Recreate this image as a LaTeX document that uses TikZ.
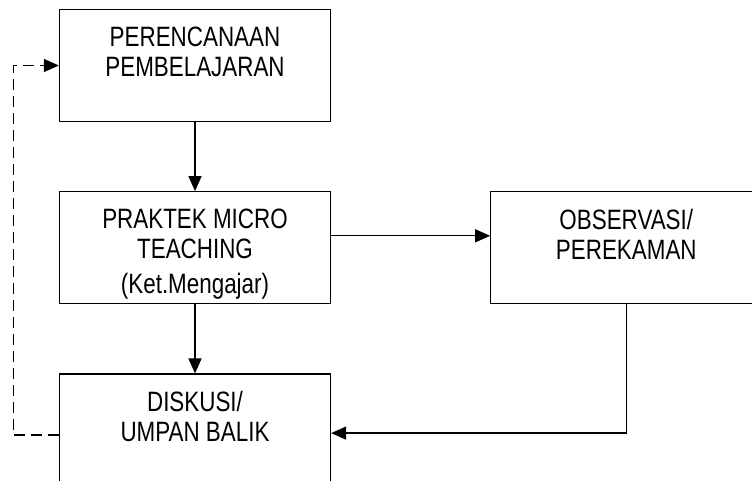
\documentclass[tikz,border=0pt]{standalone}
\usepackage{fontspec}
\setmainfont{Liberation Sans}[FakeStretch=0.8]
\usetikzlibrary{arrows.meta, positioning}

\begin{document}
\begin{tikzpicture}[
  x=1pt, y=1pt,
  node distance=69pt,
  box/.style={draw,line width=1.3pt,minimum width=271pt,minimum height=112pt,
              inner ysep=0pt,align=center,font=\fontsize{28}{30}\selectfont,
              text height=67.5pt,text depth=44.5pt},
  arrow/.style={-{Triangle[length=15pt,width=13pt]},line width=1.3pt},
  dasharrow/.style={arrow,dash pattern=on 11pt off 6pt}
]
  \useasboundingbox (0,0) rectangle (752,-481);
  \clip (0,0) rectangle (752,-481);
  \node[box] (plan) at (195,-65.5) {PERENCANAAN\\PEMBELAJARAN};
  \node[box, below=of plan, text height=101.5pt, text depth=10.5pt] (praktek) {PRAKTEK MICRO\\TEACHING\\[5pt](Ket.Mengajar)};
  \node[box, right=159pt of praktek] (observasi) {OBSERVASI/\\PEREKAMAN};
  \node[box, below=of praktek] (diskusi) {DISKUSI/\\UMPAN BALIK};

  \draw[arrow] (plan) -- (praktek);
  \draw[arrow] ([yshift=12pt]praktek.east) -- ([yshift=12pt]observasi.west);
  \draw[arrow] (praktek) -- (diskusi);
  \draw[arrow] (observasi.south) |- ([yshift=-3pt]diskusi.east);
  \draw[dasharrow] ([yshift=-5pt]diskusi.west) -- ++(-45.5,0) |- (plan.west);
\end{tikzpicture}
\end{document}
